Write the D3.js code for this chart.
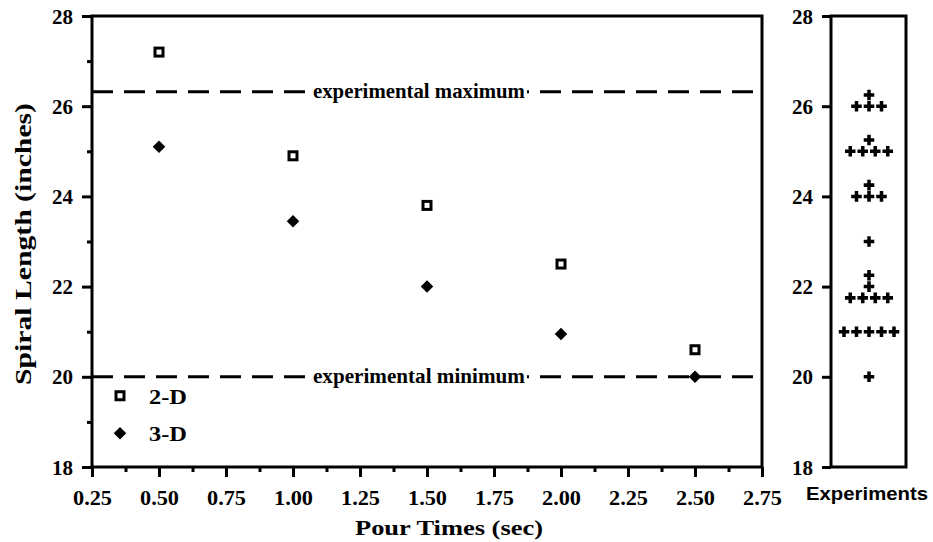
<!DOCTYPE html>
<html>
<head>
<meta charset="utf-8">
<script src="https://cdn.jsdelivr.net/npm/d3@7"></script>
<style>
  body { margin: 0; background: #fff; }
  svg { display: block; }
  text { fill: #000; }
</style>
</head>
<body>
<svg id="chart" width="933" height="542"></svg>
<script>
// ---------- data ----------
const pourTimes   = [0.5, 1.0, 1.5, 2.0, 2.5];
const values2D    = [27.2, 24.9, 23.8, 22.5, 20.6];
const values3D    = [25.1, 23.45, 22.0, 20.95, 20.0];
const experiments = [26.25, 26, 26, 26, 25.25, 25, 25, 25, 25, 24.25, 24, 24, 24, 23,
                     22.25, 22, 21.75, 21.75, 21.75, 21.75, 21, 21, 21, 21, 21, 20];
const expMax = 26.32;
const expMin = 20.0;
const xTickValues = [0.25, 0.5, 0.75, 1.0, 1.25, 1.5, 1.75, 2.0, 2.25, 2.5, 2.75];
const xMinorTicks = [0.375, 0.625, 0.875, 1.125, 1.375, 1.625, 1.875, 2.125, 2.375, 2.625];
const yTickValues = [18, 20, 22, 24, 26, 28];
const yMinorTicks = [19, 21, 23, 25, 27];
const legendItems = ["2-D", "3-D"];
const labelMax = "experimental maximum";
const labelMin = "experimental minimum";

// ---------- layout ----------
const svg = d3.select("#chart");
const L = {x0: 92, x1: 762, y0: 16, y1: 467};
const R = {x0: 831, x1: 906};
const serif = "'Liberation Serif','Times New Roman',serif";
const sans = "'Liberation Sans',Arial,Helvetica,sans-serif";

const x = d3.scaleLinear().domain([0.25, 2.75]).range([L.x0, L.x1]);
const y = d3.scaleLinear().domain([18, 28]).range([L.y1, L.y0]);

function styleAxis(g, fontSize) {
  g.select(".domain").remove();
  g.selectAll("line").attr("stroke", "#000").attr("stroke-width", 3);
  g.selectAll("text").attr("font-family", serif).attr("font-size", fontSize)
    .attr("font-weight", "bold").attr("fill", "#000");
}

// left axis major/minor
const gyMinor = svg.append("g").attr("transform", `translate(${L.x0},0)`)
  .call(d3.axisLeft(y).tickValues(yMinorTicks).tickSize(5).tickFormat(""));
styleAxis(gyMinor, 20);
const gy = svg.append("g").attr("transform", `translate(${L.x0},0)`)
  .call(d3.axisLeft(y).tickValues(yTickValues).tickSize(10).tickPadding(9).tickFormat(d3.format("d")));
styleAxis(gy, 21);
gy.selectAll("text").attr("dy", "0.34em");

// bottom axis major/minor
const gxMinor = svg.append("g").attr("transform", `translate(0,${L.y1})`)
  .call(d3.axisBottom(x).tickValues(xMinorTicks).tickSize(5).tickFormat(""));
styleAxis(gxMinor, 20);
const gx = svg.append("g").attr("transform", `translate(0,${L.y1})`)
  .call(d3.axisBottom(x).tickValues(xTickValues).tickSize(10).tickPadding(13).tickFormat(d3.format(".2f")));
styleAxis(gx, 21);
gx.selectAll("text").attr("textLength", 39).attr("lengthAdjust", "spacingAndGlyphs");

// frames
svg.append("rect").attr("x", L.x0).attr("y", L.y0).attr("width", L.x1 - L.x0).attr("height", L.y1 - L.y0)
  .attr("fill", "none").attr("stroke", "#000").attr("stroke-width", 3);
svg.append("rect").attr("x", R.x0).attr("y", L.y0).attr("width", R.x1 - R.x0).attr("height", L.y1 - L.y0)
  .attr("fill", "none").attr("stroke", "#000").attr("stroke-width", 3);

// right axis
const gr = svg.append("g").attr("transform", `translate(${R.x0},0)`)
  .call(d3.axisLeft(y).tickValues(yTickValues).tickSize(9).tickPadding(9).tickFormat(d3.format("d")));
styleAxis(gr, 21);
gr.selectAll("text").attr("dy", "0.34em");

// dashed reference lines
[[expMax, labelMax], [expMin, labelMin]].forEach(([v, lbl]) => {
  svg.append("line").attr("x1", L.x0).attr("x2", L.x1).attr("y1", y(v)).attr("y2", y(v))
    .attr("stroke", "#000").attr("stroke-width", 3).attr("stroke-dasharray", "21,11");
  const cx = x(1.47);
  svg.append("rect").attr("x", cx - 108).attr("y", y(v) - 8).attr("width", 216).attr("height", 16).attr("fill", "#fff");
  svg.append("text").attr("x", cx).attr("y", y(v) + 6).attr("text-anchor", "middle")
    .attr("font-family", serif).attr("font-size", 21).attr("font-weight", "bold")
    .attr("textLength", 212).attr("lengthAdjust", "spacingAndGlyphs").text(lbl);
});

// 2-D squares
svg.append("g").selectAll("rect").data(pourTimes).join("rect")
  .attr("x", (d) => x(d) - 4).attr("y", (d, i) => y(values2D[i]) - 4)
  .attr("width", 8).attr("height", 8).attr("fill", "#fff").attr("stroke", "#000").attr("stroke-width", 3);

// 3-D diamonds
const diamond = d3.symbol(d3.symbolSquare, 78);
svg.append("g").selectAll("path").data(pourTimes).join("path")
  .attr("d", diamond)
  .attr("transform", (d, i) => `translate(${x(d)},${y(values3D[i])}) rotate(45)`)
  .attr("fill", "#000");

// legend
const legY = [19.58, 18.75];
svg.append("rect").attr("x", 116).attr("y", y(legY[0]) - 4).attr("width", 8).attr("height", 8)
  .attr("fill", "#fff").attr("stroke", "#000").attr("stroke-width", 3);
svg.append("path").attr("d", diamond).attr("transform", `translate(120,${y(legY[1])}) rotate(45)`).attr("fill", "#000");
legendItems.forEach((t, i) => {
  svg.append("text").attr("x", 149).attr("y", y(legY[i]) + 8)
    .attr("font-family", serif).attr("font-size", 21).attr("font-weight", "bold")
    .attr("textLength", 38).attr("lengthAdjust", "spacingAndGlyphs").text(t);
});

// experiments dot plot (crosses spread horizontally by equal values)
const groups = d3.group(experiments, (d) => d);
const cross = d3.symbol(d3.symbolCross, 62);
const rc = (R.x0 + R.x1) / 2 + 0.5;
const crossPts = [];
groups.forEach((arr, v) => arr.forEach((d, i) => crossPts.push({v, off: i - (arr.length - 1) / 2})));
svg.append("g").selectAll("path").data(crossPts).join("path")
  .attr("d", cross)
  .attr("transform", (d) => `translate(${rc + d.off * 12.5},${y(d.v)})`)
  .attr("fill", "#000");

// axis titles
svg.append("text").attr("x", (L.x0 + L.x1) / 2 + 22).attr("y", 535).attr("text-anchor", "middle")
  .attr("font-family", serif).attr("font-size", 22).attr("font-weight", "bold")
  .attr("textLength", 188).attr("lengthAdjust", "spacingAndGlyphs").text("Pour Times (sec)");
svg.append("text").attr("transform", `translate(31,${244}) rotate(-90)`).attr("text-anchor", "middle")
  .attr("font-family", serif).attr("font-size", 23).attr("font-weight", "bold")
  .attr("textLength", 282).attr("lengthAdjust", "spacingAndGlyphs").text("Spiral Length (inches)");
svg.append("text").attr("x", 867).attr("y", 500).attr("text-anchor", "middle")
  .attr("font-family", sans).attr("font-size", 19).attr("font-weight", "bold")
  .attr("textLength", 122).attr("lengthAdjust", "spacingAndGlyphs").text("Experiments");
</script>
</body>
</html>
